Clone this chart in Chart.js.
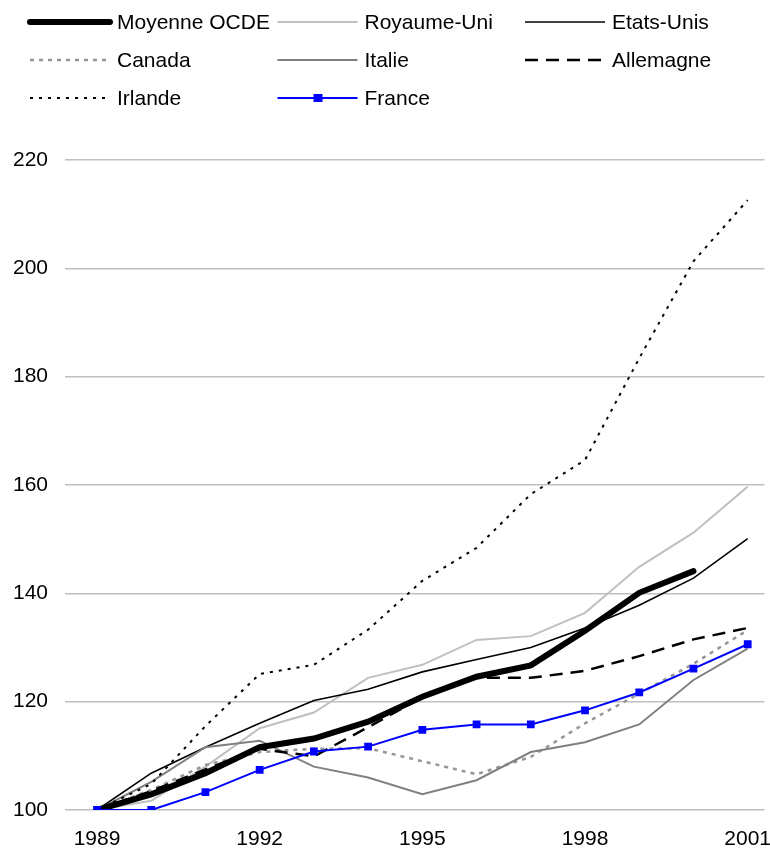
<!DOCTYPE html>
<html>
<head>
<meta charset="utf-8">
<script src="https://cdn.jsdelivr.net/npm/chart.js@4"></script>
<style>
  body { margin: 0; background: #fff; }
</style>
</head>
<body>
<canvas id="chart" width="770" height="851"></canvas>
<script>
// years and tick labels
var years = [1989, 1990, 1991, 1992, 1993, 1994, 1995, 1996, 1997, 1998, 1999, 2000, 2001];
var xTicks = [1989, 1992, 1995, 1998, 2001];
var yTicks = [100, 120, 140, 160, 180, 200, 220];

// series (index 1989 = 100)
var moyenneOCDE = [100, 102.9, 106.8, 111.6, 113.2, 116.3, 120.9, 124.6, 126.7, 133.1, 140.1, 144.1, null];
var royaumeUni  = [100, 101.7, 108.0, 115.1, 118.0, 124.4, 126.8, 131.4, 132.1, 136.4, 144.9, 151.2, 159.7];
var etatsUnis   = [100, 106.8, 111.6, 116.0, 120.2, 122.3, 125.5, 127.8, 130.0, 133.6, 137.8, 142.8, 150.1];
var canada      = [100, 103.7, 108.3, 110.7, 111.3, 111.4, 109.0, 106.6, 109.8, 116.0, 121.5, 127.0, 133.2];
var italie      = [100, 105.2, 111.6, 112.8, 108.0, 106.0, 102.9, 105.5, 110.7, 112.5, 115.8, 124.0, 129.8];
var allemagne   = [100, 103.5, 107.5, 111.3, 109.9, 115.3, 120.8, 124.4, 124.4, 125.7, 128.4, 131.5, 133.6];
var irlande     = [100, 104.8, 115.5, 125.1, 126.8, 133.3, 142.3, 148.4, 158.3, 164.6, 183.4, 201.3, 212.6];
var france      = [100, 100.0, 103.3, 107.4, 110.8, 111.7, 114.8, 115.8, 115.8, 118.4, 121.7, 126.1, 130.6];

var FONT = '"Liberation Sans", Arial, sans-serif';

function pts(arr) {
    return years.map(function(y, i) { return { x: y, y: arr[i] }; });
}

// legend drawn as a 3 column grid, like the original
var gridLegend = {
    id: 'gridLegend',
    afterDraw: function(chart) {
        var ctx = chart.ctx;
        chart.data.datasets.forEach(function(ds, i) {
            var col = i % 3, row = Math.floor(i / 3);
            var x0 = 30 + col * 247.5;
            var y = 22 + row * 38;
            ctx.save();
            ctx.strokeStyle = ds.borderColor;
            ctx.lineWidth = ds.borderWidth;
            ctx.lineCap = ds.borderCapStyle || 'butt';
            ctx.setLineDash(ds.borderDash || []);
            ctx.beginPath();
            ctx.moveTo(x0, y);
            ctx.lineTo(x0 + 80, y);
            ctx.stroke();
            if (ds.pointRadius > 0) {
                ctx.fillStyle = ds.pointBackgroundColor;
                ctx.fillRect(x0 + 36, y - 4, 9, 8);
            }
            ctx.fillStyle = '#000';
            ctx.font = '21px ' + FONT;
            ctx.textBaseline = 'middle';
            ctx.textAlign = 'left';
            ctx.fillText(ds.label, x0 + 87, y + 1);
            ctx.restore();
        });
    }
};

var ctx = document.getElementById('chart').getContext('2d');
var chart = new Chart(ctx, {
    type: 'line',
    data: {
        datasets: [
            { label: 'Moyenne OCDE', data: pts(moyenneOCDE), borderColor: '#000000', borderWidth: 6, borderCapStyle: 'round', order: 1 },
            { label: 'Royaume-Uni', data: pts(royaumeUni), borderColor: '#c0c0c0', borderWidth: 2, order: 8 },
            { label: 'Etats-Unis', data: pts(etatsUnis), borderColor: '#000000', borderWidth: 1.6, order: 7 },
            { label: 'Canada', data: pts(canada), borderColor: '#969696', borderWidth: 2.5, borderDash: [4, 5], order: 6 },
            { label: 'Italie', data: pts(italie), borderColor: '#808080', borderWidth: 2, order: 5 },
            { label: 'Allemagne', data: pts(allemagne), borderColor: '#000000', borderWidth: 2.5, borderDash: [13, 8], order: 4 },
            { label: 'Irlande', data: pts(irlande), borderColor: '#000000', borderWidth: 2, borderDash: [3, 6], order: 3 },
            { label: 'France', data: pts(france), borderColor: '#0000ff', borderWidth: 2, order: 0,
              pointRadius: 5.5, pointStyle: 'rect', pointBackgroundColor: '#0000ff', pointBorderWidth: 0 }
        ]
    },
    options: {
        responsive: false,
        animation: false,
        elements: { line: { tension: 0, fill: false }, point: { radius: 0 } },
        layout: { padding: { top: 160, left: 0, right: 0, bottom: 0 } },
        plugins: { legend: { display: false }, tooltip: { enabled: false } },
        scales: {
            x: {
                type: 'linear',
                min: 1988.41,
                max: 2001.31,
                afterBuildTicks: function(scale) {
                    scale.ticks = xTicks.map(function(v) { return { value: v }; });
                },
                afterFit: function(scale) {
                    scale.height = 41;
                    scale.paddingLeft = 0;
                    scale.paddingRight = 0;
                },
                grid: { display: false },
                border: { display: false },
                ticks: {
                    color: '#000',
                    font: { size: 21, family: FONT },
                    padding: 9,
                    maxRotation: 0,
                    callback: function(v) { return String(v); }
                }
            },
            y: {
                min: 100,
                max: 220,
                afterBuildTicks: function(scale) {
                    scale.ticks = yTicks.map(function(v) { return { value: v }; });
                },
                afterFit: function(scale) {
                    scale.width = 65;
                    scale.paddingTop = 0;
                    scale.paddingBottom = 0;
                },
                grid: { color: '#c0c0c0', lineWidth: 1.5, drawTicks: false },
                border: { display: false },
                ticks: {
                    color: '#000',
                    font: { size: 21, family: FONT },
                    padding: 17
                }
            }
        }
    },
    plugins: [gridLegend]
});
</script>
</body>
</html>
